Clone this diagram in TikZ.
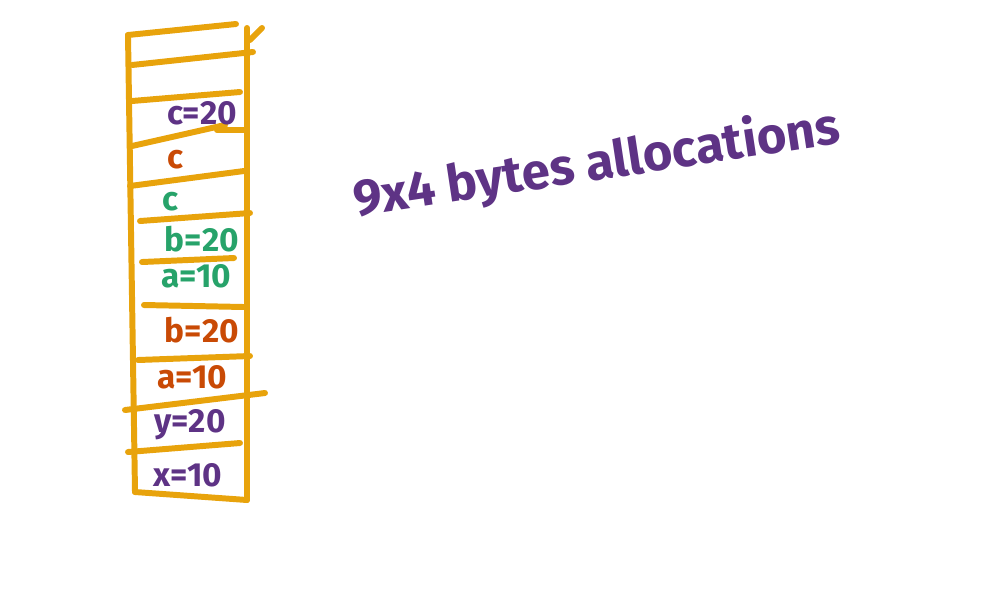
\documentclass[tikz,border=0pt]{standalone}
\usepackage{fontspec}
\setmainfont{Fira Sans}
\definecolor{stackgold}{HTML}{E8A30C}
\definecolor{penpurple}{HTML}{5E3385}
\definecolor{penred}{HTML}{C94A05}
\definecolor{pengreen}{HTML}{27A36A}
\tikzset{
  wall/.style={stackgold, line width=3.4pt, line cap=round},
  lbl/.style={font=\bfseries\fontsize{19}{19}\selectfont, inner sep=0pt}
}
\begin{document}
\begin{tikzpicture}[x=0.02cm,y=-0.02cm]
        \useasboundingbox (0,0) rectangle (1000,600);
        % the stack
        \draw[wall] (128,35)--(135,492)
            (247,28)--(247,500)
            (250,40)--(262,28);
        \draw[wall] (128,35)--(236,24)
            (132,65)--(253,52)
            (132,101)--(240,92)
            (132,146)--(225,125)
            (217,130)--(244,130)
            (130,186)--(244,171)
            (140,221)--(250,213)
            (142,262)--(234,258)
            (144,305)--(244,307)
            (138,360)--(250,356)
            (125,410)--(265,393)
            (128,452)--(240,443)
            (135,492)--(247,500);
        % slot contents
        \node[lbl,penpurple] (c1) at (202,113) {c=20};
        \node[lbl,penred] (c2) at (175,160) {c};
        \node[lbl,pengreen] (c3) at (170,202) {c};
        \node[lbl,pengreen] (b1) at (202,239) {b=20};
        \node[lbl,pengreen] (a1) at (196,276) {a=10};
        \node[lbl,penred] (b2) at (202,330) {b=20};
        \node[lbl,penred] (a2) at (192,377) {a=10};
        \node[lbl,penpurple] (y) at (190,425) {y=20};
        \node[lbl,penpurple] (x) at (188,475) {x=10};
        % note
        \node[font=\bfseries\fontsize{29}{29}\selectfont, penpurple, rotate=8.6, inner sep=0pt] (note) at (597,165) {9x4 bytes allocations};
    \end{tikzpicture}
\end{document}
